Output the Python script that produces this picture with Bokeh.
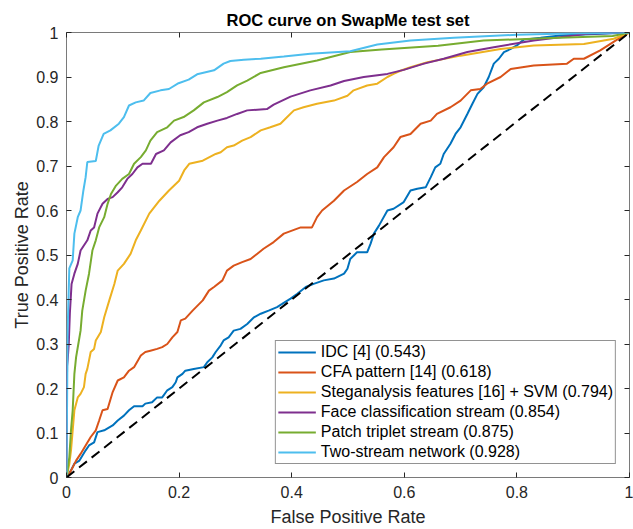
from bokeh.plotting import figure
from bokeh.models import Range1d, LinearAxis, FixedTicker, Legend, LegendItem
from bokeh.embed import file_html
from bokeh.resources import INLINE

FONT = "Liberation Sans"

title = "ROC curve on SwapMe test set"
x_label = "False Positive Rate"
y_label = "True Positive Rate"

x_ticks = [0, 0.2, 0.4, 0.6, 0.8, 1]
x_tick_labels = ["0", "0.2", "0.4", "0.6", "0.8", "1"]
y_ticks = [0, 0.1, 0.2, 0.3, 0.4, 0.5, 0.6, 0.7, 0.8, 0.9, 1]
y_tick_labels = ["0", "0.1", "0.2", "0.3", "0.4", "0.5", "0.6", "0.7", "0.8", "0.9", "1"]

series_names = [
    "IDC [4] (0.543)",
    "CFA pattern [14] (0.618)",
    "Steganalysis features [16] + SVM (0.794)",
    "Face classification stream (0.854)",
    "Patch triplet stream (0.875)",
    "Two-stream network (0.928)",
]
series_colors = ["#0072BD", "#D95319", "#EDB120", "#7E2F8E", "#77AC30", "#4DBEEE"]

idc_fpr = [0, .008, .014, .023, .034, .040, .049, .055, .067, .082, .091, .102, .111, .120, .135,
           .140, .152, .161, .170, .179, .188, .194, .197, .206, .211, .226, .244, .250, .259, .265,
           .274, .279, .288, .297, .309, .321, .333, .345, .359, .374, .383, .398, .410, .425, .439,
           .457, .475, .493, .499, .504, .516, .534, .540, .546, .555, .570, .581, .599, .611, .623,
           .638, .647, .655, .664, .670, .682, .691, .700, .712, .721, .730, .741, .750, .759, .768,
           .777, .789, .800, .812, .842, .877, .948, 1]
idc_tpr = [0, .016, .031, .038, .061, .072, .079, .102, .106, .117, .128, .139, .151, .160, .160,
           .166, .169, .180, .180, .196, .203, .214, .225, .233, .240, .244, .248, .259, .270, .282,
           .297, .308, .315, .330, .334, .345, .360, .368, .375, .383, .390, .402, .413, .428, .435,
           .443, .447, .458, .469, .491, .506, .506, .525, .548, .566, .600, .604, .619, .645, .649,
           .652, .675, .697, .705, .727, .750, .772, .787, .817, .840, .862, .877, .900, .930, .941,
           .956, .963, .971, .984, .988, .993, .997, 1]

cfa_fpr = [0, .005, .017, .025, .034, .043, .052, .058, .064, .073, .082, .091, .102, .111, .120,
           .132, .140, .149, .161, .170, .179, .188, .197, .203, .211, .224, .242, .253, .262, .277,
           .285, .297, .312, .327, .339, .350, .368, .386, .416, .436, .445, .454, .475, .493, .516,
           .534, .552, .564, .581, .593, .611, .629, .647, .658, .682, .700, .718, .735, .747, .771,
           .789, .830, .889, .901, .919, .948, .978, 1]
cfa_tpr = [0, .008, .038, .053, .072, .091, .106, .128, .151, .154, .192, .218, .225, .240, .248,
           .274, .282, .285, .289, .293, .300, .315, .327, .353, .357, .375, .398, .420, .428, .443,
           .465, .476, .484, .491, .503, .514, .529, .548, .562, .562, .585, .600, .622, .645, .664,
           .682, .697, .720, .742, .765, .772, .795, .802, .817, .832, .847, .870, .873, .885, .900,
           .918, .926, .930, .941, .941, .960, .984, 1]

steg_fpr = [0, .005, .008, .011, .014, .020, .025, .031, .034, .037, .043, .049, .052, .061, .067,
            .076, .085, .091, .102, .114, .123, .132, .147, .165, .182, .200, .209, .218, .242, .265,
            .274, .285, .297, .312, .327, .345, .362, .380, .392, .404, .421, .445, .475, .499, .510,
            .534, .552, .570, .581, .593, .611, .641, .700, .771, .830, .919, .972, 1]
steg_tpr = [0, .030, .061, .106, .151, .180, .188, .203, .233, .244, .282, .289, .308, .327, .360,
            .398, .435, .465, .480, .503, .533, .555, .593, .622, .645, .667, .690, .705, .712, .727,
            .731, .742, .746, .757, .765, .780, .787, .795, .810, .825, .832, .840, .847, .858, .870,
            .881, .885, .900, .907, .914, .922, .933, .948, .963, .971, .974, .986, 1]

face_fpr = [0, .001, .002, .004, .006, .009, .014, .020, .025, .037, .043, .049, .055, .064, .073,
            .082, .091, .099, .108, .117, .126, .135, .150, .159, .173, .185, .202, .217, .232, .250,
            .268, .285, .303, .321, .356, .368, .398, .433, .469, .493, .528, .570, .599, .635, .670,
            .712, .759, .830, .901, .925, 1]
face_tpr = [0, .250, .263, .300, .370, .435, .458, .480, .510, .533, .555, .562, .593, .615, .626,
            .630, .641, .652, .671, .682, .697, .705, .705, .727, .735, .753, .769, .776, .787, .795,
            .802, .808, .817, .825, .828, .838, .856, .870, .881, .891, .900, .907, .916, .930, .941,
            .956, .967, .982, .993, .997, 1]

patch_fpr = [0, .005, .008, .011, .014, .017, .021, .025, .028, .034, .040, .046, .052, .058, .067,
             .073, .079, .088, .099, .111, .120, .132, .141, .149, .161, .179, .191, .208, .226, .244,
             .268, .285, .303, .321, .345, .386, .445, .504, .560, .660, .741, .850, .970, 1]
patch_tpr = [0, .046, .106, .151, .233, .270, .300, .330, .375, .420, .458, .510, .533, .562, .585,
             .615, .637, .656, .671, .682, .705, .720, .735, .757, .776, .787, .802, .810, .825, .843,
             .855, .866, .881, .892, .909, .922, .937, .956, .962, .970, .982, .987, .992, 1]

two_fpr = [0, .002, .005, .011, .014, .020, .025, .030, .034, .037, .052, .057, .066, .078, .093,
           .102, .111, .123, .137, .149, .167, .182, .199, .217, .232, .262, .279, .291, .315, .345,
           .386, .433, .504, .552, .611, .688, .800, .889, 1]
two_tpr = [0, .330, .470, .488, .548, .585, .600, .645, .675, .709, .711, .745, .772, .780, .795,
           .810, .836, .843, .847, .864, .870, .873, .886, .894, .906, .915, .930, .936, .939, .941,
           .946, .952, .958, .973, .982, .988, .995, .998, 1]

chance_x = [0, 1]
chance_y = [0, 1]

series = [
    (idc_fpr, idc_tpr),
    (cfa_fpr, cfa_tpr),
    (steg_fpr, steg_tpr),
    (face_fpr, face_tpr),
    (patch_fpr, patch_tpr),
    (two_fpr, two_tpr),
]

AX = "#262626"
BOX = "#7a7a7a"

p = figure(width=633, height=529, output_backend="svg", toolbar_location=None,
           x_range=Range1d(0, 1), y_range=Range1d(0, 1), title=title,
           min_border_left=66, min_border_right=4, min_border_top=32, min_border_bottom=52)
p.background_fill_color = "white"
p.border_fill_color = "white"
p.grid.visible = False
p.outline_line_color = BOX
p.outline_line_width = 1

p.title.text_font = FONT
p.title.text_font_size = "16.5px"
p.title.text_font_style = "bold"
p.title.text_color = "#000000"
p.title.align = "center"
p.title.vertical_align = "top"
p.title.standoff = 4

def style_axis(ax, ticks, labels, show):
    ax.ticker = FixedTicker(ticks=ticks)
    ax.major_label_overrides = {t: l for t, l in zip(ticks, labels)}
    ax.major_tick_in = 5
    ax.major_tick_out = 0
    ax.minor_tick_in = 0
    ax.minor_tick_out = 0
    ax.major_tick_line_color = AX
    ax.axis_line_color = None
    ax.major_label_text_font = FONT
    ax.major_label_text_font_size = "16px"
    ax.major_label_text_color = AX
    ax.axis_label_text_font = FONT
    ax.axis_label_text_font_size = "18px"
    ax.axis_label_text_font_style = "normal"
    ax.axis_label_text_color = AX
    if not show:
        ax.major_label_text_color = None
        ax.major_label_text_font_size = "0px"
        ax.major_label_standoff = 0

style_axis(p.xaxis[0], x_ticks, x_tick_labels, True)
style_axis(p.yaxis[0], y_ticks, y_tick_labels, True)
p.xaxis[0].axis_label = x_label
p.yaxis[0].axis_label = y_label
p.xaxis[0].major_label_standoff = 8
p.yaxis[0].major_label_standoff = 8
p.xaxis[0].axis_label_standoff = 6
p.yaxis[0].axis_label_standoff = 1

top_ax = LinearAxis()
style_axis(top_ax, x_ticks, x_tick_labels, False)
p.add_layout(top_ax, "above")
right_ax = LinearAxis()
style_axis(right_ax, y_ticks, y_tick_labels, False)
p.add_layout(right_ax, "right")

items = []
for (fx, fy), name, col in zip(series, series_names, series_colors):
    r = p.line(fx, fy, line_color=col, line_width=2)
    items.append(LegendItem(label=name, renderers=[r]))

p.line(chance_x, chance_y, line_color="black", line_width=2, line_dash="10 6")

legend = Legend(items=items, location="bottom_right")
legend.margin = 13
legend.padding = 2
legend.spacing = 2
legend.glyph_width = 38
legend.glyph_height = 16
legend.label_height = 16
legend.label_standoff = 5
legend.label_text_font = FONT
legend.label_text_font_size = "16px"
legend.label_text_color = "#000000"
legend.border_line_color = AX
legend.border_line_width = 1
legend.background_fill_color = "white"
legend.background_fill_alpha = 1
p.add_layout(legend)

open("out.html", "w").write(file_html(p, INLINE))
